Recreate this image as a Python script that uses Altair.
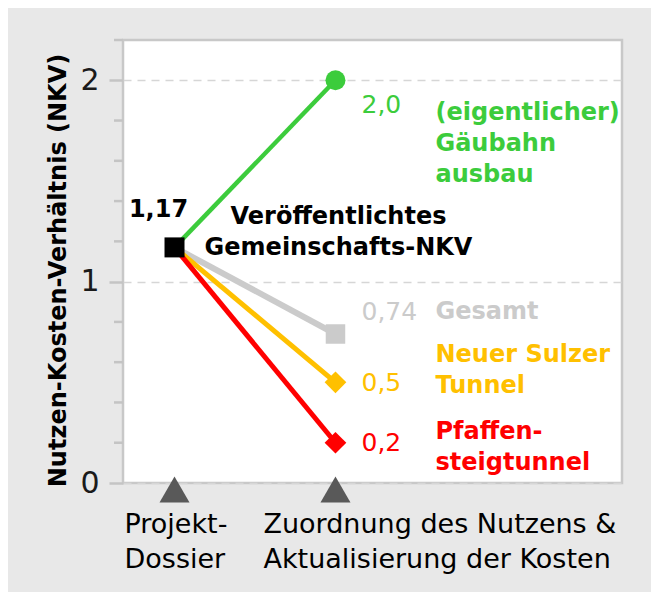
import altair as alt
import pandas as pd

# --- data -----------------------------------------------------------------
stage_x = [0, 1]
stage_labels = ["Projekt-\nDossier", "Zuordnung des Nutzens &\nAktualisierung der Kosten"]

start_nkv = 1.17
start_label = "1,17"
start_name = "Veröffentlichtes\nGemeinschafts-NKV"

series = ["Gesamt", "Neuer Sulzer Tunnel", "Pfaffensteigtunnel", "Gäubahnausbau"]
end_nkv = [0.74, 0.5, 0.2, 2.0]
end_labels = ["0,74", "0,5", "0,2", "2,0"]
series_labels = ["Gesamt", "Neuer Sulzer\nTunnel", "Pfaffen-\nsteigtunnel", "(eigentlicher)\nGäubahn\nausbau"]

major_ticks = [0, 1, 2]
minor_ticks = [0.2, 0.4, 0.6, 0.8, 1.2, 1.4, 1.6, 1.8, 2.2]

# --- style ----------------------------------------------------------------
FONT = "DejaVu Sans"
colors = ["#cbcbcb", "#ffc000", "#ff0000", "#3ccc3c"]
shapes = ["square", "diamond", "diamond", "circle"]
sizes = [380, 470, 470, 400]
line_widths = [6, 5, 5, 4.5]
value_dy = [-22, 1, 0, 25]
name_dy = [-22, -27, -11, 33]  # first text line, relative to the end point

x_scale = alt.Scale(domain=[-0.32, 2.78], nice=False, zero=False)
y_scale = alt.Scale(domain=[0, 2.2], nice=False)
X = lambda f: alt.X(f, type="quantitative", scale=x_scale, axis=None)

layers = []

# minor ticks left of the plot
ticks = pd.DataFrame({"v": minor_ticks})
layers.append(
    alt.Chart(ticks)
    .mark_rule(color="#c4c4c4", strokeWidth=2.5)
    .encode(y=alt.Y("v:Q", scale=y_scale), x=alt.value(-9), x2=alt.value(0))
)

# connecting lines
for i, name in enumerate(series):
    seg = pd.DataFrame({"x": stage_x, "y": [start_nkv, end_nkv[i]]})
    enc_y = alt.Y(
        "y:Q",
        scale=y_scale,
        title="Nutzen-Kosten-Verhältnis (NKV)",
        axis=alt.Axis(
            values=major_ticks,
            format="d",
            tickSize=14,
            tickWidth=2.5,
            tickColor="#c4c4c4",
            domain=False,
            labelFontSize=30,
            labelColor="#1a1a1a",
            labelPadding=10,
            labelFont=FONT,
            grid=True,
            gridDash=[8, 6],
            gridColor="#d6d6d6",
            gridWidth=1.5,
            titleFont=FONT,
            titleFontSize=24,
            titleFontWeight="bold",
            titleColor="#000000",
            titleAngle=270,
            titleAlign="center",
            titleBaseline="middle",
            titleX=-65,
            titleY=230,
        ),
    )
    layers.append(
        alt.Chart(seg)
        .mark_line(color=colors[i], strokeWidth=line_widths[i])
        .encode(x=X("x"), y=enc_y)
    )

# end markers and labels
for i, name in enumerate(series):
    pt = pd.DataFrame({"x": [stage_x[1]], "y": [end_nkv[i]],
                       "v": [end_labels[i]], "n": [series_labels[i]]})
    base = alt.Chart(pt).encode(x=X("x"), y=alt.Y("y:Q", scale=y_scale))
    layers.append(base.mark_point(shape=shapes[i], filled=True, opacity=1,
                                  size=sizes[i], color=colors[i]))
    layers.append(base.mark_text(align="left", baseline="middle", dx=26, dy=value_dy[i],
                                 font=FONT, fontSize=25, color=colors[i]).encode(text="v:N"))
    layers.append(base.mark_text(align="left", baseline="middle", dx=100, dy=name_dy[i],
                                 font=FONT, fontSize=24, fontWeight="bold", lineBreak="\n",
                                 lineHeight=31, color=colors[i]).encode(text="n:N"))

# start marker and labels
st = pd.DataFrame({"x": [stage_x[0]], "y": [start_nkv], "v": [start_label], "n": [start_name]})
sbase = alt.Chart(st).encode(x=X("x"), y=alt.Y("y:Q", scale=y_scale))
layers.append(sbase.mark_point(shape="square", filled=True, opacity=1, size=400, color="#000000"))
layers.append(sbase.mark_text(align="center", baseline="middle", dx=-16, dy=-37, font=FONT,
                              fontSize=24, fontWeight="bold", color="#000000").encode(text="v:N"))
layers.append(sbase.mark_text(align="center", baseline="middle", dx=164, dy=-30, font=FONT,
                              fontSize=24, fontWeight="bold", lineBreak="\n", lineHeight=31,
                              color="#000000").encode(text="n:N"))

# stage markers and labels below the plot
stages = pd.DataFrame({"x": stage_x, "label": stage_labels})
layers.append(
    alt.Chart(stages)
    .mark_point(shape="triangle-up", filled=True, opacity=1, size=900, color="#595959")
    .encode(x=X("x"), y=alt.value(449.5))
)
label_dx = [-50, -72]
for i in range(len(stage_x)):
    layers.append(
        alt.Chart(stages.iloc[[i]])
        .mark_text(align="left", baseline="alphabetic", dx=label_dx[i], font=FONT, fontSize=27,
                   lineBreak="\n", lineHeight=35, color="#000000")
        .encode(x=X("x"), y=alt.value(493), text="label:N")
    )

chart = (
    alt.layer(*layers)
    .properties(
        width=499,
        height=443,
        autosize=alt.AutoSizeParams(type="none"),
        padding={"left": 115, "top": 32, "right": 29, "bottom": 109},
        background="#e8e8e8",
    )
    .configure_view(fill="#ffffff", stroke="#c8c8c8", strokeWidth=2.5)
)

chart.save("out.html", embed_options={"renderer": "svg", "actions": False})
